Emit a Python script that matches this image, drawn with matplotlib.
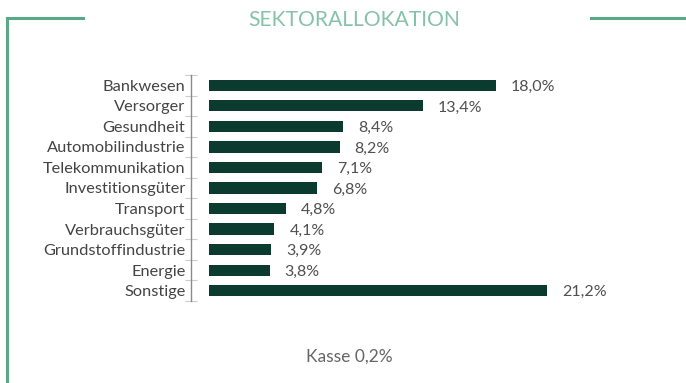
import matplotlib.pyplot as plt
from matplotlib.lines import Line2D

plt.rcParams['font.family'] = ['Lato', 'DejaVu Sans']

sektoren = ["Bankwesen", "Versorger", "Gesundheit", "Automobilindustrie",
            "Telekommunikation", "Investitionsgüter", "Transport",
            "Verbrauchsgüter", "Grundstoffindustrie", "Energie", "Sonstige"]
anteile = [18.0, 13.4, 8.4, 8.2, 7.1, 6.8, 4.8, 4.1, 3.9, 3.8, 21.2]
kasse = 0.2

W, H = 686, 383
fig = plt.figure(figsize=(W / 100, H / 100), dpi=100)

# Rahmenlinien oben links / rechts
gruen = "#5aa88a"
fig.add_artist(Line2D([7 / W, 83 / W], [1 - 18 / H, 1 - 18 / H], color=gruen, lw=2.2))
fig.add_artist(Line2D([7 / W, 7 / W], [1 - 18 / H, 0], color=gruen, lw=2.2))
fig.add_artist(Line2D([591 / W, 1], [1 - 18 / H, 1 - 18 / H], color=gruen, lw=2.2))

fig.text(354 / W, 1 - 20.5 / H, "SEKTORALLOKATION", ha="center", va="center",
         fontsize=15.2, color="#86c2a9")

# Balkendiagramm
left, top, bottom = 209, 75, 301
px_per_unit = 15.94
xmax = 25
ax = fig.add_axes([left / W, 1 - bottom / H, xmax * px_per_unit / W, (bottom - top) / H])
pos = list(range(len(sektoren)))
ax.barh(pos, anteile, height=0.55, color="#0b3b2f")
ax.set_xlim(0, xmax)
ax.set_ylim(len(sektoren) - 0.5, -0.5)

for p, v in zip(pos, anteile):
    ax.text(v + 15 / px_per_unit, p + 0.08, f"{v:.1f}%".replace(".", ","),
            va="center", ha="left", fontsize=11.5, color="#505050")

for s in ["top", "right", "bottom"]:
    ax.spines[s].set_visible(False)
ax.spines["left"].set_position(("outward", 13))
ax.spines["left"].set_color("#8a8a8a")
ax.spines["left"].set_linewidth(1.0)
ax.set_xticks([])
ax.set_yticks(pos)
ax.set_yticklabels(sektoren)
ax.set_yticks([p - 0.5 for p in pos] + [len(pos) - 0.5], minor=True)
ax.tick_params(axis="y", which="major", length=0, pad=4, labelsize=11.8, labelcolor="#444444")
ax.tick_params(axis="y", which="minor", direction="inout", length=9, width=0.8, color="#cccccc")

fig.text(349 / W, 1 - 357 / H, f"Kasse {kasse:.1f}%".replace(".", ","), ha="center", va="center",
         fontsize=12.5, color="#666666")

fig.savefig("out.png", dpi=100)
